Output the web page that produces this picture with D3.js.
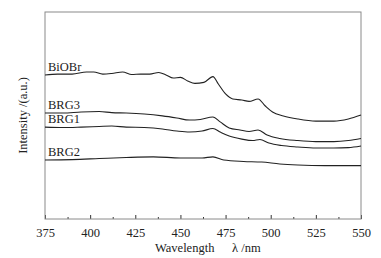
<!DOCTYPE html>
<html>
<head>
<meta charset="utf-8">
<script src="https://cdn.jsdelivr.net/npm/d3@7"></script>
<style>
  body { margin: 0; background: #fff; }
  text { font-family: "Liberation Serif", "Times New Roman", serif; fill: #222; }
</style>
</head>
<body>
<div id="chart"></div>
<script>
// wavelength (nm) and intensity (a.u.)
const biobrX = [375, 382, 390, 398, 402, 407, 412, 418, 423, 428, 433, 438, 442, 446, 450, 454, 458, 463, 468, 471, 475, 479, 484, 488, 493, 497, 501, 507, 515, 525, 535, 543, 550];
const biobrY = [69.6, 70.0, 70.0, 71.0, 71.0, 70.0, 70.3, 71.0, 69.8, 70.0, 70.0, 70.8, 69.6, 68.1, 68.4, 66.7, 65.5, 66.0, 68.8, 65.2, 60.4, 58.0, 57.5, 56.8, 58.0, 54.6, 51.7, 49.8, 48.3, 47.3, 47.3, 48.3, 50.2];

const brg3X = [375, 385, 395, 405, 412, 420, 430, 440, 448, 455, 461, 468, 472, 477, 483, 488, 493, 498, 505, 515, 525, 535, 543, 550];
const brg3Y = [51.2, 51.2, 51.7, 51.9, 51.4, 51.2, 50.7, 49.8, 48.8, 47.8, 48.1, 49.3, 46.9, 44.0, 43.0, 42.3, 43.0, 40.6, 38.9, 37.9, 37.4, 37.4, 37.9, 38.9];

const brg1X = [375, 385, 395, 405, 412, 420, 430, 440, 448, 455, 462, 468, 472, 477, 484, 490, 494, 499, 506, 515, 525, 535, 543, 550];
const brg1Y = [44.4, 44.2, 44.4, 44.7, 44.9, 44.4, 44.2, 43.5, 42.5, 42.0, 42.5, 43.7, 42.0, 40.1, 38.6, 37.9, 38.4, 36.7, 35.5, 34.8, 34.3, 34.3, 34.5, 35.3];

const brg2X = [375, 390, 405, 420, 435, 450, 462, 468, 474, 485, 495, 505, 515, 530, 550];
const brg2Y = [28.5, 28.7, 29.2, 29.7, 30.0, 29.5, 29.5, 30.0, 28.5, 27.8, 27.5, 26.6, 26.1, 25.8, 25.8];

const seriesNames = ["BiOBr", "BRG3", "BRG1", "BRG2"];
const xTicks = [375, 400, 425, 450, 475, 500, 525, 550];
const xMinorTicks = [387.5, 412.5, 437.5, 462.5, 487.5, 512.5, 537.5];

const series = [
    {name: seriesNames[0], xs: biobrX, ys: biobrY},
    {name: seriesNames[1], xs: brg3X, ys: brg3Y},
    {name: seriesNames[2], xs: brg1X, ys: brg1Y},
    {name: seriesNames[3], xs: brg2X, ys: brg2Y}
];

const margin = {top: 12, right: 20, bottom: 39, left: 45};
const width = 381 - margin.left - margin.right;
const height = 258 - margin.top - margin.bottom;

const svg = d3.select("#chart").append("svg")
    .attr("width", 381)
    .attr("height", 258)
    .append("g")
    .attr("transform", `translate(${margin.left}, ${margin.top})`);

const x = d3.scaleLinear().domain([375, 550]).range([0, width]);
const y = d3.scaleLinear().domain([0, 100]).range([height, 0]);

// inward ticks on the bottom axis
const xAxis = svg.append("g")
    .attr("transform", `translate(0, ${height})`)
    .call(d3.axisBottom(x).tickValues(xTicks).tickSizeInner(-4).tickSizeOuter(0).tickPadding(9).tickFormat(d3.format("d")));
xAxis.select(".domain").remove();
xAxis.selectAll("line").attr("stroke", "#333");
xAxis.selectAll("text").style("font-size", "12.5px").style("font-family", "Liberation Serif").attr("fill", "#222");

const xMinor = svg.append("g")
    .attr("transform", `translate(0, ${height})`)
    .call(d3.axisBottom(x).tickValues(xMinorTicks).tickSizeInner(-2).tickSizeOuter(0).tickFormat(""));
xMinor.select(".domain").remove();
xMinor.selectAll("line").attr("stroke", "#333");

// frame
svg.append("rect")
    .attr("x", 0)
    .attr("y", 0)
    .attr("width", width)
    .attr("height", height)
    .attr("fill", "none")
    .attr("stroke", "#8a8a8a")
    .attr("stroke-width", 1);

const line = d3.line()
    .x(d => x(d[0]))
    .y(d => y(d[1]))
    .curve(d3.curveMonotoneX);

svg.selectAll(".curve")
    .data(series)
    .join("path")
    .attr("class", "curve")
    .attr("d", d => line(d.xs.map((v, i) => [v, d.ys[i]])))
    .attr("fill", "none")
    .attr("stroke", "#222")
    .attr("stroke-width", 1.1);

svg.selectAll(".curve-label")
    .data(series)
    .join("text")
    .attr("class", "curve-label")
    .attr("x", x(375) + 3)
    .attr("y", d => y(d.ys[0]) - 4)
    .style("font-size", "12.5px")
    .text(d => d.name);

// axis titles
svg.append("text")
    .attr("x", 110)
    .attr("y", height + 33)
    .style("font-size", "12.5px")
    .text("Wavelength");

svg.append("text")
    .attr("x", 187)
    .attr("y", height + 33)
    .style("font-size", "12.5px")
    .text("\u03bb /nm");

svg.append("text")
    .attr("transform", "rotate(-90)")
    .attr("x", -(height / 2))
    .attr("y", -18)
    .attr("text-anchor", "middle")
    .style("font-size", "12.5px")
    .text("Intensity /(a.u.)");
</script>
</body>
</html>
